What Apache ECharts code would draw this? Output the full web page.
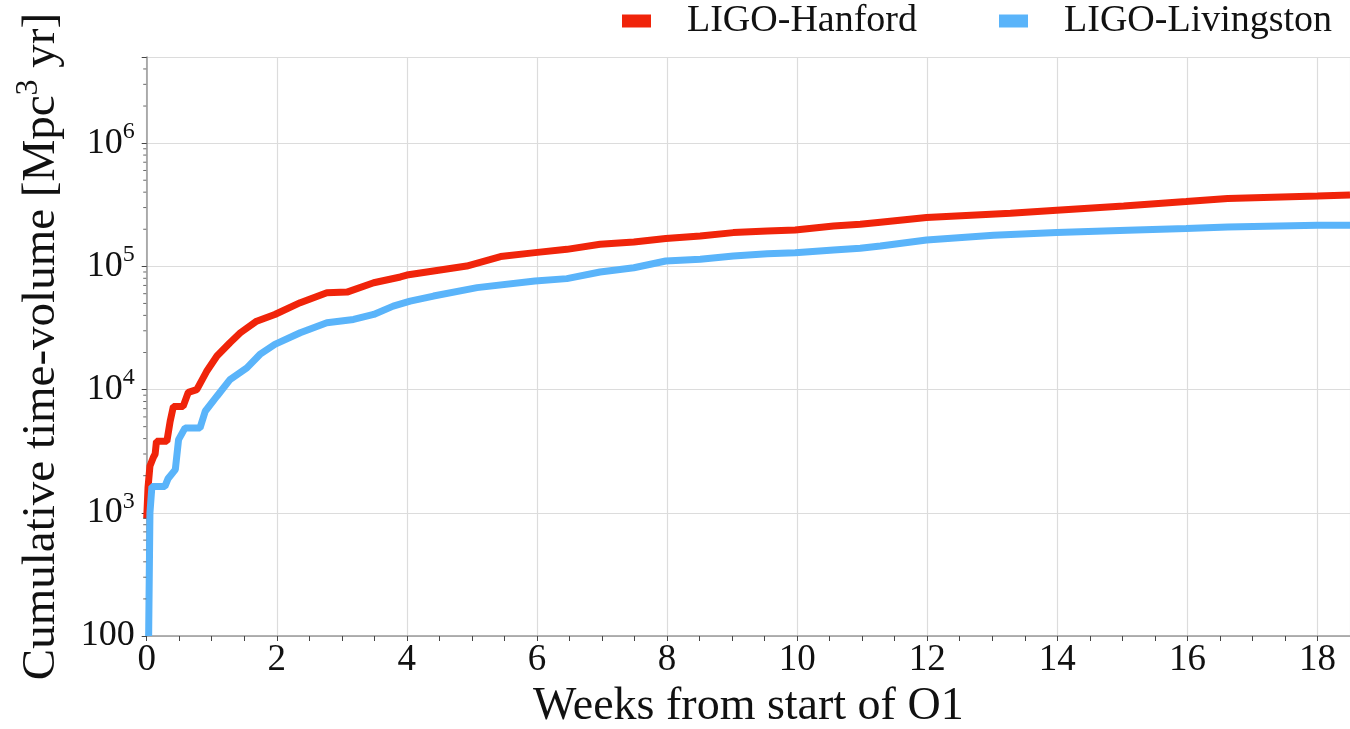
<!DOCTYPE html>
<html><head><meta charset="utf-8">
<script src="https://cdn.jsdelivr.net/npm/echarts@6/dist/echarts.min.js"></script>
<style>html,body{margin:0;padding:0;background:#fff}#c{width:1350px;height:729px}</style>
</head><body><div id="c"></div>
<script>
var seriesNames = ['LIGO-Hanford', 'LIGO-Livingston'];
var hanfordWeeks = [0, 0.02, 0.05, 0.1, 0.13, 0.15, 0.31, 0.36, 0.41, 0.56, 0.64, 0.77, 0.92, 1.08, 1.28, 1.44, 1.69, 1.97, 2.36, 2.77, 3.08, 3.49, 3.9, 4.0, 4.92, 5.44, 5.97, 6.46, 6.97, 7.49, 7.98, 8.51, 9.02, 9.54, 9.97, 10.56, 10.97, 11.28, 11.99, 13.28, 13.99, 15.02, 15.98, 16.62, 18.0, 18.5];
var hanfordValues = [900, 1600, 2400, 2800, 3000, 3800, 3800, 5500, 7300, 7300, 9500, 10000, 14000, 18700, 24000, 28900, 35900, 40700, 50700, 61100, 61800, 73600, 82000, 85000, 100500, 120000, 129200, 137400, 150900, 157600, 168000, 176400, 187800, 193600, 197300, 212700, 219300, 228000, 248700, 269800, 285300, 309300, 335700, 355000, 373000, 380000];
var livingstonWeeks = [0.03, 0.05, 0.08, 0.28, 0.33, 0.36, 0.44, 0.49, 0.59, 0.82, 0.9, 1.08, 1.28, 1.54, 1.74, 1.97, 2.36, 2.77, 3.18, 3.49, 3.79, 4.05, 4.41, 5.08, 5.97, 6.46, 6.97, 7.49, 7.98, 8.51, 9.02, 9.54, 9.97, 10.56, 10.97, 11.28, 11.99, 13.02, 13.99, 15.08, 15.98, 16.62, 18.0, 18.5];
var livingstonValues = [100, 1000, 1636, 1636, 1900, 1972, 2240, 3920, 4885, 4885, 6670, 8830, 12050, 14990, 19270, 23250, 28900, 34860, 37060, 40700, 47570, 52200, 57400, 67200, 76100, 79500, 90000, 97500, 110400, 114000, 121300, 126700, 129200, 135700, 140000, 146000, 163600, 178600, 187800, 196300, 202600, 208900, 215400, 216000];
var yMinorTicks = [200,300,400,500,600,700,800,900,2000,3000,4000,5000,6000,7000,8000,9000,20000,30000,40000,50000,60000,70000,80000,90000,200000,300000,400000,500000,600000,700000,800000,900000,2000000,3000000,4000000];

function zip(xs, ys){ return xs.map(function(x,i){ return [x, ys[i]]; }); }
var serif = '"Liberation Serif","DejaVu Serif",serif';
var chart = echarts.init(document.getElementById('c'), null, {renderer:'canvas'});
chart.setOption({
  animation:false,
  backgroundColor:'#fff',
  legend:{
    data: seriesNames,
    left: 622, top: 0, padding: 0,
    icon: 'rect', itemWidth: 29, itemHeight: 13, itemGap: 82,
    textStyle:{fontFamily: serif, fontSize: 38, color:'#111', lineHeight: 42, padding:[0,0,0,31]}
  },
  grid:{left:146.7, right:0, top:57, bottom:93, containLabel:false, outerBoundsMode:'none'},
  xAxis:{
    type:'value', min:0, max:18.5, interval:2,
    name:'Weeks from start of O1', nameLocation:'middle', nameGap:48,
    nameTextStyle:{fontFamily: serif, fontSize:46, color:'#111', lineHeight:46},
    axisLine:{show:true, onZero:false, lineStyle:{color:'#999', width:1.5}},
    axisTick:{show:true, length:5, lineStyle:{color:'#444'}},
    minorTick:{show:true, splitNumber:4, length:5, lineStyle:{color:'#444'}},
    axisLabel:{fontFamily: serif, fontSize:37, color:'#111', margin:6,
      formatter:function(v){ return (Math.abs(v - Math.round(v)) < 1e-9 && Math.round(v) % 2 === 0) ? String(Math.round(v)) : ''; }},
    splitLine:{show:true, lineStyle:{color:'#dcdcdc', width:1.2}}
  },
  yAxis:{
    type:'log', logBase:10, min:100, max:5e6,
    name:'{a|Cumulative time-volume [Mpc}{s|3}{a| yr]}', nameLocation:'middle', nameGap:74,
    nameTextStyle:{fontFamily: serif, color:'#111',
      rich:{a:{fontFamily: serif, fontSize:47, lineHeight:50, color:'#111'},
            s:{fontFamily: serif, fontSize:32, lineHeight:32, padding:[0,0,25,0], color:'#111'}}},
    axisLine:{show:true, onZero:false, lineStyle:{color:'#999', width:1.5}},
    axisTick:{show:true, length:5, lineStyle:{color:'#444'}},
    axisLabel:{margin:12, color:'#111',
      formatter:function(v){
        var e = Math.log10(v), r = Math.round(e);
        if (Math.abs(e - r) > 1e-6 || r > 6) return '';
        if (r === 2) return '{c|100}';
        return '{b|10}{s|' + r + '}';
      },
      rich:{
        b:{fontFamily: serif, fontSize:36, lineHeight:36, color:'#111'},
        c:{fontFamily: serif, fontSize:36, lineHeight:38, color:'#111'},
        s:{fontFamily: serif, fontSize:24, lineHeight:24, color:'#111', padding:[0,0,23,0]}
      }},
    splitLine:{show:true, lineStyle:{color:'#dcdcdc', width:1.2}}
  },
  series:[
    {name:seriesNames[0], type:'line', data:zip(hanfordWeeks, hanfordValues), showSymbol:false, symbol:'none',
     lineStyle:{color:'#f0240a', width:7}, itemStyle:{color:'#f0240a'}, z:3},
    {name:seriesNames[1], type:'line', data:zip(livingstonWeeks, livingstonValues), showSymbol:false, symbol:'none',
     lineStyle:{color:'#5ab4fa', width:7}, itemStyle:{color:'#5ab4fa'}, z:4},
    {name:'minorTicks', type:'scatter', data:yMinorTicks.map(function(v){return [0, v];}),
     symbol:'rect', symbolSize:[3,1], symbolOffset:[-2,0], clip:false, silent:true,
     itemStyle:{color:'#444'}, z:5}
  ]
});
</script></body></html>
